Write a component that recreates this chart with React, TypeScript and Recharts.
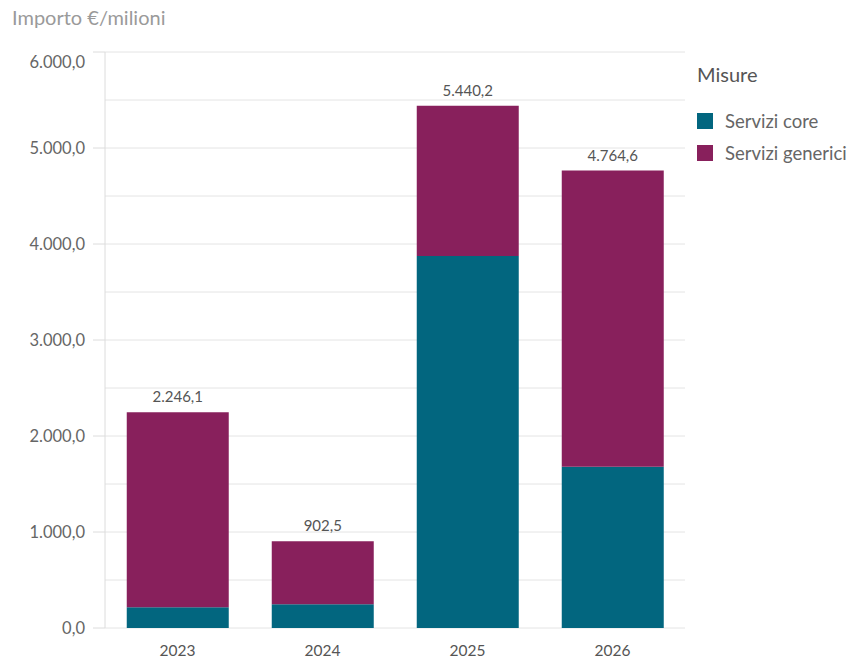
import { Bar, BarChart, CartesianGrid, LabelList, XAxis, YAxis } from "recharts"

// Spesa per misura, importi in milioni di euro
const years = ["2023", "2024", "2025", "2026"]
const serviziCore = [216, 247, 3875, 1680]
const totali = [2246.1, 902.5, 5440.2, 4764.6]
const yTicks = [0, 1000, 2000, 3000, 4000, 5000, 6000]
const gridValues = [0, 500, 1000, 1500, 2000, 2500, 3000, 3500, 4000, 4500, 5000, 5500, 6000]

const CORE_COLOR = "#02667f"
const GENERIC_COLOR = "#88205c"
const FONT = "Lato, 'Open Sans', sans-serif"

const data = years.map((year, i) => ({
  year,
  core: serviziCore[i],
  generici: Math.round((totali[i] - serviziCore[i]) * 10) / 10,
  total: totali[i],
}))

function formatIt(value: number) {
  const [int, dec] = value.toFixed(1).split(".")
  return `${int.replace(/\B(?=(\d{3})+(?!\d))/g, ".")},${dec}`
}

function YTick(props: any) {
  const { x, y, payload } = props
  const shift = payload.value === 6000 ? 10 : 0
  return (
    <text
      x={x}
      y={y + shift}
      dy={6}
      textAnchor="end"
      fill="#666"
      fontSize={16.5}
      fontFamily={FONT}
    >
      {formatIt(payload.value)}
    </text>
  )
}

function LegendBox() {
  const items = [
    { label: "Servizi core", color: CORE_COLOR },
    { label: "Servizi generici", color: GENERIC_COLOR },
  ]
  return (
    <div style={{ position: "absolute", left: 697, top: 62, fontFamily: FONT }}>
      <div style={{ fontSize: 20, color: "#555", marginBottom: 19 }}>Misure</div>
      {items.map((item) => (
        <div
          key={item.label}
          style={{ display: "flex", alignItems: "center", height: 32, fontSize: 18.5, color: "#666" }}
        >
          <span
            style={{ width: 16, height: 16, background: item.color, marginRight: 12, display: "inline-block" }}
          />
          {item.label}
        </div>
      ))}
    </div>
  )
}

export default function App() {
  return (
    <div style={{ position: "absolute", left: 0, top: 0, width: 857, height: 661, background: "#fff" }}>
      <div
        style={{
          position: "absolute",
          left: 12,
          top: 5,
          fontFamily: FONT,
          fontSize: 20,
          color: "#9a9a9a",
        }}
      >
        Importo €/milioni
      </div>
      <BarChart
        width={857}
        height={661}
        data={data}
        barCategoryGap="15%"
        margin={{ top: 52, right: 172, bottom: 0, left: 0 }}
      >
        <CartesianGrid
          horizontalValues={gridValues}
          vertical={false}
          stroke="#e4e4e4"
        />
        <XAxis
          dataKey="year"
          axisLine={false}
          tickLine={false}
          tickSize={0}
          tickMargin={17}
          height={33}
          tick={{ fontSize: 15.5, fill: "#555", fontFamily: FONT }}
        />
        <YAxis
          width={105}
          domain={[0, 6000]}
          ticks={yTicks}
          interval={0}
          tickSize={12}
          tickMargin={8}
          axisLine={{ stroke: "#dcdcdc" }}
          tickLine={{ stroke: "#dcdcdc" }}
          tick={<YTick />}
        />
        <Bar dataKey="core" stackId="a" fill={CORE_COLOR} isAnimationActive={false} />
        <Bar dataKey="generici" stackId="a" fill={GENERIC_COLOR} isAnimationActive={false}>
          <LabelList
            dataKey="total"
            position="top"
            offset={10}
            formatter={(v: any) => formatIt(Number(v))}
            style={{ fontSize: 15, fill: "#555", fontFamily: FONT }}
          />
        </Bar>
      </BarChart>
      <LegendBox />
    </div>
  )
}
